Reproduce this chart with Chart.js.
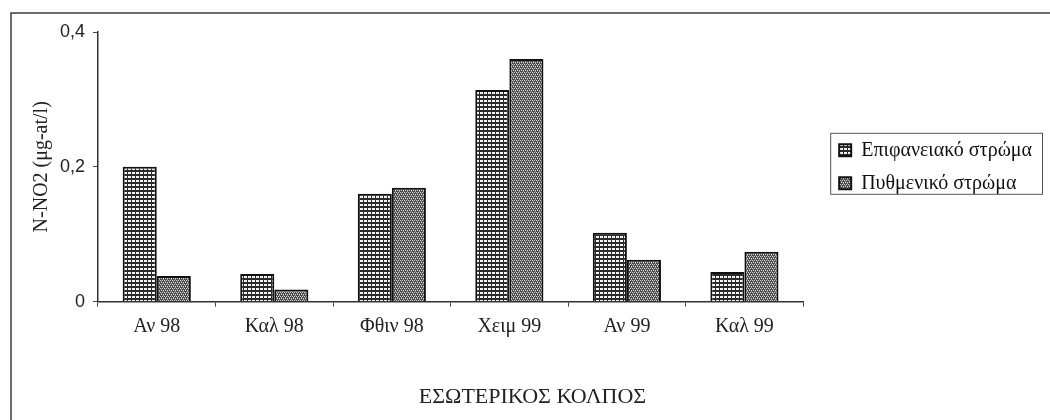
<!DOCTYPE html>
<html>
<head>
<meta charset="utf-8">
<title>N-NO2</title>
<script src="https://cdn.jsdelivr.net/npm/chart.js@4"></script>
<style>
  html, body { margin: 0; padding: 0; background: #fff; }
  #wrap { width: 1050px; height: 420px; position: relative; }
</style>
</head>
<body>
<div id="wrap"><canvas id="chart" width="1050" height="420"></canvas></div>
<script>
const categories = ["Αν 98", "Καλ 98", "Φθιν 98", "Χειμ 99", "Αν 99", "Καλ 99"];
const surfaceValues = [0.2, 0.041, 0.16, 0.314, 0.102, 0.044];
const bottomValues = [0.038, 0.018, 0.169, 0.36, 0.062, 0.074];
const yTicks = [0, 0.2, 0.4];

const serif = "'Liberation Serif', 'DejaVu Serif', serif";
const legendShift = 23;
const titleShift = 17;

// grid fill: white squares separated by dark lines
function gridPattern() {
  const c = document.createElement("canvas");
  c.width = 4; c.height = 4;
  const g = c.getContext("2d");
  g.fillStyle = "#2b2b2b";
  g.fillRect(0, 0, 4, 4);
  g.fillStyle = "#f4f4f4";
  g.fillRect(0, 0, 3, 2);
  return g.createPattern(c, "repeat");
}

// dotted diagonal fill, darker overall
function dotPattern() {
  const c = document.createElement("canvas");
  c.width = 4; c.height = 4;
  const g = c.getContext("2d");
  g.fillStyle = "#4a4a4a";
  g.fillRect(0, 0, 4, 4);
  g.fillStyle = "#d8d8d8";
  g.fillRect(0, 0, 1, 1);
  g.fillRect(2, 0, 1, 1);
  g.fillRect(1, 2, 1, 1);
  g.fillRect(3, 2, 1, 1);
  g.fillStyle = "#9a9a9a";
  g.fillRect(1, 1, 1, 1);
  g.fillRect(3, 3, 1, 1);
  return g.createPattern(c, "repeat");
}

// outer frame (top and left edges), legend/title placement and box round the legend
const framePlugin = {
  id: "frame",
  afterLayout(chart) {
    const lg = chart.legend;
    lg.left += legendShift;
    lg.right += legendShift;
    lg.top = chart.chartArea.top;
    lg.bottom = chart.chartArea.bottom;
    const tb = chart.titleBlock;
    tb.left += titleShift;
    tb.right += titleShift;
  },
  beforeDraw(chart) {
    const ctx = chart.ctx;
    ctx.save();
    ctx.strokeStyle = "#3c3c3c";
    ctx.lineWidth = 1.5;
    ctx.beginPath();
    ctx.moveTo(1050, 13);
    ctx.lineTo(11, 13);
    ctx.lineTo(11, 420);
    ctx.stroke();
    ctx.restore();
  },
  afterDraw(chart) {
    const lg = chart.legend;
    const cy = (lg.top + lg.bottom) / 2;
    const ctx = chart.ctx;
    const left = lg.left + 4;
    ctx.save();
    ctx.strokeStyle = "#555";
    ctx.lineWidth = 1;
    ctx.strokeRect(left + 0.5, cy - 33.5, 1042 - left, 61);
    ctx.restore();
  }
};

const ctx = document.getElementById("chart").getContext("2d");
new Chart(ctx, {
  type: "bar",
  data: {
    labels: categories,
    datasets: [
      {
        label: "Επιφανειακό στρώμα",
        data: surfaceValues,
        backgroundColor: gridPattern(),
        borderColor: "#111",
        borderWidth: 2,
        borderSkipped: "bottom"
      },
      {
        label: "Πυθμενικό στρώμα",
        data: bottomValues,
        backgroundColor: dotPattern(),
        borderColor: "#111",
        borderWidth: 2,
        borderSkipped: "bottom"
      }
    ]
  },
  options: {
    responsive: false,
    animation: false,
    devicePixelRatio: 1,
    layout: { padding: { left: 12, top: 32, right: 8 + legendShift, bottom: 0 } },
    datasets: {
      bar: { categoryPercentage: 0.58, barPercentage: 1.0 }
    },
    plugins: {
      tooltip: { enabled: false },
      legend: {
        position: "right",
        align: "center",
        labels: {
          color: "#111",
          font: { family: serif, size: 20 },
          boxWidth: 12,
          boxHeight: 12,
          padding: 13
        }
      },
      title: {
        display: true,
        position: "bottom",
        text: "ΕΣΩΤΕΡΙΚΟΣ ΚΟΛΠΟΣ",
        color: "#222",
        font: { family: serif, size: 22, weight: "normal" },
        padding: { top: 0, bottom: 10 }
      }
    },
    scales: {
      x: {
        grid: {
          display: true,
          drawOnChartArea: false,
          drawTicks: true,
          tickLength: 5,
          color: "#444",
          offset: true
        },
        border: { display: true, color: "#333", width: 1.5 },
        ticks: {
          color: "#222",
          font: { family: serif, size: 20 },
          padding: 8,
          maxRotation: 0
        },
        afterFit(scale) { scale.height = 82; }
      },
      y: {
        min: 0,
        max: 0.4,
        afterBuildTicks(scale) {
          scale.ticks = yTicks.map(v => ({ value: v }));
        },
        grid: {
          display: true,
          drawOnChartArea: false,
          drawTicks: true,
          tickLength: 5,
          color: "#444"
        },
        border: { display: true, color: "#333", width: 1.5 },
        ticks: {
          color: "#222",
          font: { family: "'Liberation Sans Narrow', 'Liberation Sans', sans-serif", size: 18 },
          padding: 8,
          callback: v => (v === 0 ? "0" : v.toFixed(1).replace(".", ","))
        },
        title: {
          display: true,
          text: "N-NO2 (μg-at/l)",
          color: "#222",
          font: { family: serif, size: 20 },
          padding: { top: 18, bottom: 0 }
        },
        afterFit(scale) { scale.width = 86; }
      }
    }
  },
  plugins: [framePlugin]
});
</script>
</body>
</html>
